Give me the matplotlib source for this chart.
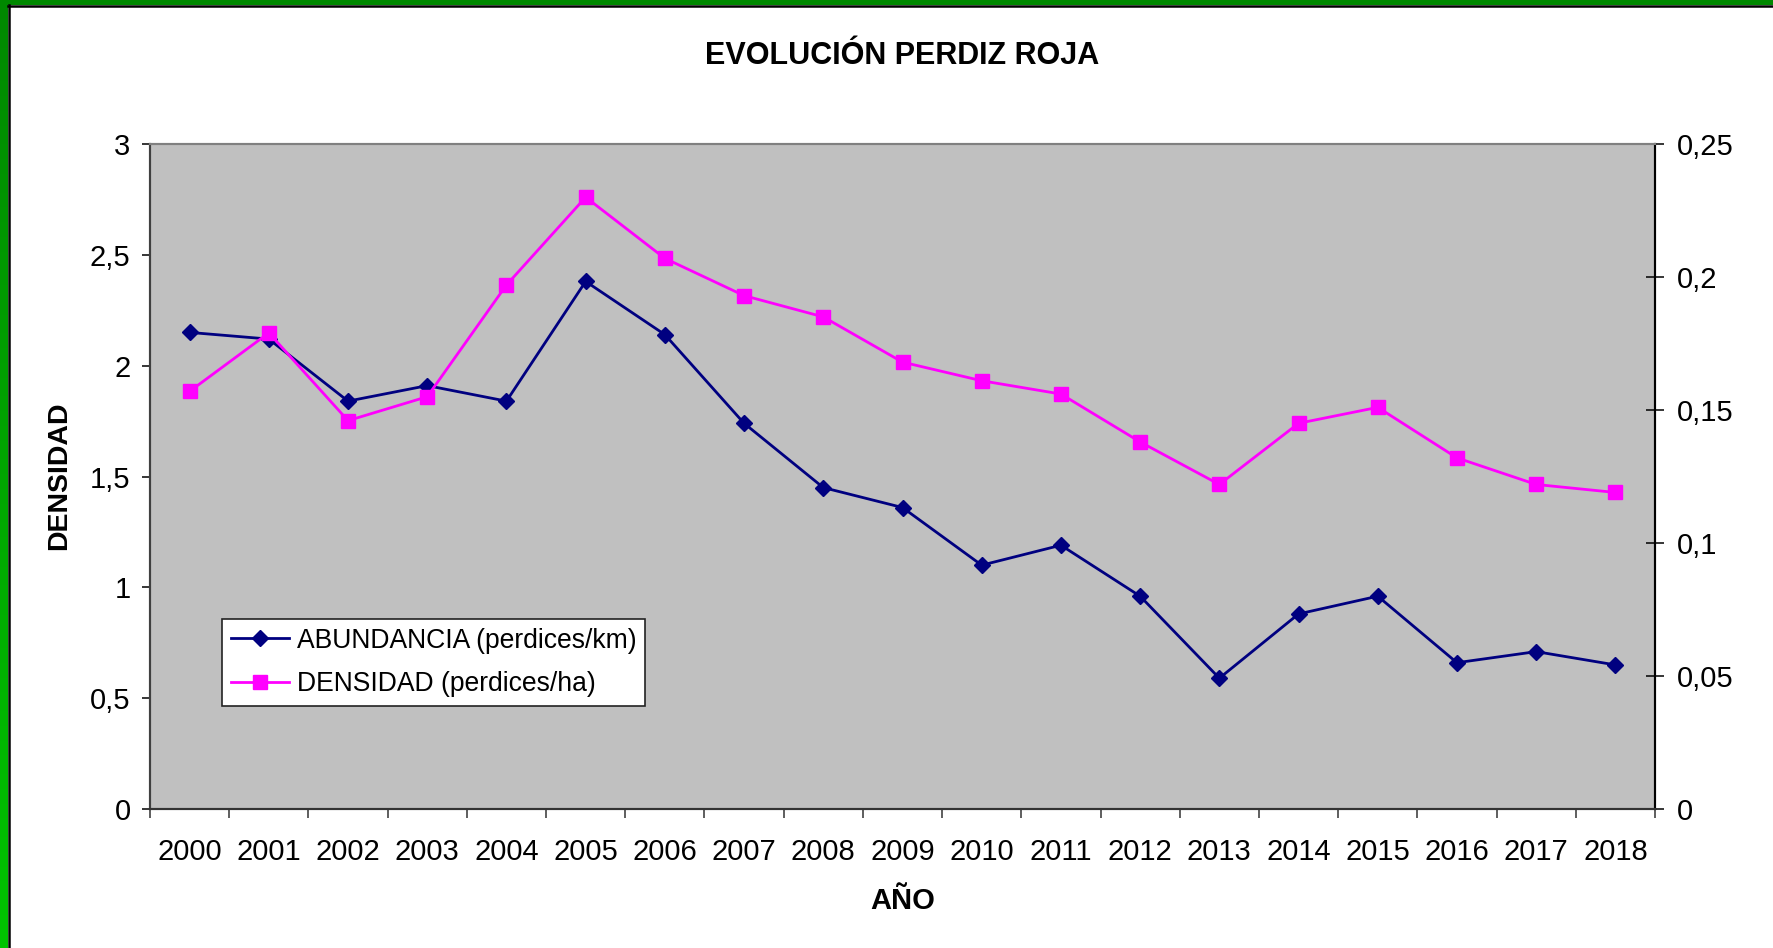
import matplotlib
matplotlib.use("Agg")
import numpy as np
import matplotlib.pyplot as plt
from matplotlib.lines import Line2D
from matplotlib.colors import LinearSegmentedColormap
from matplotlib.ticker import FuncFormatter, FixedLocator

# ── Data ──────────────────────────────────────────────────────────────────────
years = [str(y) for y in range(2000, 2019)]
abundancia = [2.15, 2.12, 1.84, 1.91, 1.84, 2.38, 2.14, 1.74, 1.45, 1.36,
              1.10, 1.19, 0.96, 0.59, 0.88, 0.96, 0.66, 0.71, 0.65]
densidad = [0.157, 0.179, 0.146, 0.155, 0.197, 0.230, 0.207, 0.193, 0.185, 0.168,
            0.161, 0.156, 0.138, 0.122, 0.145, 0.151, 0.132, 0.122, 0.119]

C_NAVY = "#000080"
C_MAG = "#FF00FF"
C_PLOT = "#C0C0C0"
plt.rcParams["font.family"] = "Liberation Sans"

W, H = 1773, 948
fig = plt.figure(figsize=(W / 100, H / 100), dpi=100)
fig.patch.set_facecolor("white")

# ── Frame: green strips on top and left, thin black line inside ───────────────
left = fig.add_axes([0, 0, 8 / W, 1])
left.axis("off")
grad = LinearSegmentedColormap.from_list("g", ["#00C400", "#008800"])
left.imshow(np.linspace(0, 1, 256).reshape(-1, 1), cmap=grad, aspect="auto",
            origin="lower", extent=(0, 1, 0, 1))
top = fig.add_axes([0, 1 - 5 / H, 1, 5 / H])
top.axis("off")
top.add_patch(plt.Rectangle((0, 0), 1, 1, color="#008800"))
fig.add_artist(Line2D([9.2 / W, 9.2 / W], [0, 1 - 5 / H], color="black", lw=1.8))
fig.add_artist(Line2D([8 / W, 1], [1 - 6 / H, 1 - 6 / H], color="black", lw=1.8))

# ── Chart ─────────────────────────────────────────────────────────────────────
ax = fig.add_axes([150 / W, 1 - 809 / H, (1655 - 150) / W, (809 - 144) / H])
ax.set_facecolor(C_PLOT)
ax2 = ax.twinx()

x = list(range(len(years)))
ax.plot(x, abundancia, color=C_NAVY, lw=2, marker="D", markersize=8.5,
        label="ABUNDANCIA (perdices/km)", zorder=3)
ax2.plot(x, densidad, color=C_MAG, lw=2, marker="s", markersize=9.5,
         label="DENSIDAD (perdices/ha)", zorder=3)

ax.set_xlim(-0.5, len(years) - 0.5)
ax.set_ylim(0, 3)
ax2.set_ylim(0, 0.25)

comma = FuncFormatter(lambda v, p: f"{v:g}".replace(".", ","))
ax.set_yticks([0, 0.5, 1, 1.5, 2, 2.5, 3])
ax.yaxis.set_major_formatter(comma)
ax2.set_yticks([0, 0.05, 0.1, 0.15, 0.2, 0.25])
ax2.yaxis.set_major_formatter(comma)

# category ticks at boundaries, labels at centers
ax.xaxis.set_major_locator(FixedLocator([i - 0.5 for i in range(len(years) + 1)]))
ax.xaxis.set_major_formatter(FuncFormatter(lambda v, p: ""))
ax.set_xticks(x, minor=True)
ax.set_xticklabels(years, minor=True)
ax.tick_params(axis="x", which="major", length=6.5, width=1.1, color="#333333", direction="out")
ax.tick_params(axis="x", which="minor", length=0, pad=21, labelsize=21)
ax.tick_params(axis="y", length=6, width=1.1, direction="out", labelsize=21, pad=8)
ax2.tick_params(axis="y", length=13, width=1.1, direction="inout", labelsize=21, pad=9)

for a in (ax, ax2):
    a.spines["top"].set_color("#808080")
    a.spines["left"].set_color("#404040")
    a.spines["bottom"].set_color("#333333")
    a.spines["right"].set_color("black")
    for s in a.spines.values():
        s.set_linewidth(1.5)

cx = (150 + 1655) / 2 / W
fig.text(cx, 1 - 55.5 / H, "EVOLUCIÓN PERDIZ ROJA", fontsize=22, fontweight="bold",
         ha="center", va="center")
fig.text(cx, 1 - 901 / H, "AÑO", fontsize=21, fontweight="bold", ha="center", va="center")
fig.text(59 / W, 1 - 476 / H, "DENSIDAD", fontsize=20.5, fontweight="bold",
         rotation=90, ha="center", va="center")

h1, l1 = ax.get_legend_handles_labels()
h2, l2 = ax2.get_legend_handles_labels()
leg = ax2.legend(h1 + h2, l1 + l2, loc="lower left", bbox_to_anchor=(0.0478, 0.155),
                 borderaxespad=0, fontsize=19.1, frameon=True, fancybox=False,
                 framealpha=1, facecolor="white", edgecolor="#222222",
                 borderpad=0.33, handlelength=2.2, handletextpad=0.3, labelspacing=0.66)
leg.get_frame().set_linewidth(1.2)

fig.savefig("out.png", dpi=100, facecolor="white")
